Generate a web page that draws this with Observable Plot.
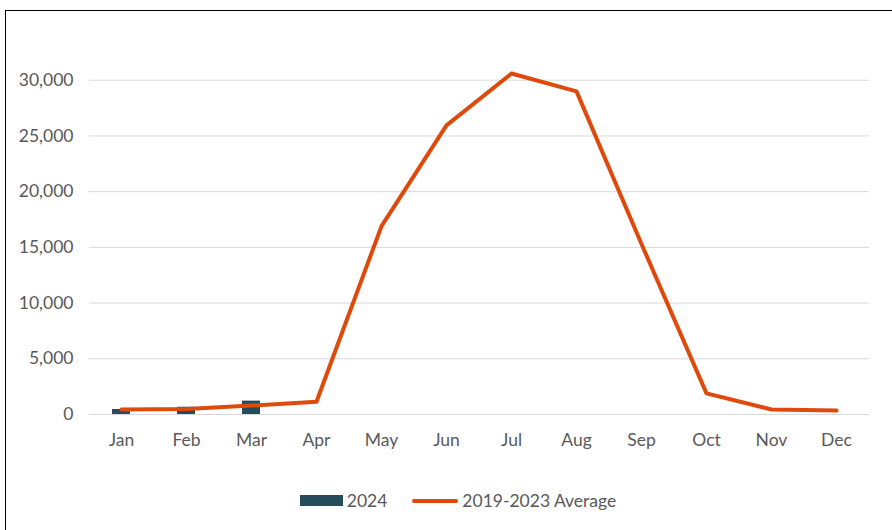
<!DOCTYPE html>
<html>
<head>
<meta charset="utf-8">
<script src="https://cdn.jsdelivr.net/npm/d3@7"></script>
<script src="https://cdn.jsdelivr.net/npm/@observablehq/plot@0.6"></script>
<style>
  html, body { margin: 0; padding: 0; background: #fff; }
  body { width: 892px; height: 530px; overflow: hidden; position: relative; font-family: Lato, "Open Sans", sans-serif; }
  #frame { position: absolute; left: 5px; top: 10px; width: 900px; height: 540px; border: 1px solid #000; box-sizing: border-box; }
  #chart { position: absolute; left: 0; top: 0; }
  #legend { position: absolute; top: 490px; left: 12px; width: 892px; display: flex; justify-content: center; gap: 25px; font-size: 17.5px; color: #595959; }
  .item { display: flex; align-items: center; gap: 4px; }
  .sw-bar { width: 43px; height: 11px; background: #264b5a; }
  .sw-line { width: 46px; height: 4px; border-radius: 2px; background: #de4a0b; }
</style>
</head>
<body>
<div id="frame"></div>
<div id="chart"></div>
<div id="legend">
  <div class="item"><div class="sw-bar"></div><span>2024</span></div>
  <div class="item"><div class="sw-line"></div><span>2019-2023 Average</span></div>
</div>
<script>
const months = ["Jan","Feb","Mar","Apr","May","Jun","Jul","Aug","Sep","Oct","Nov","Dec"];
const values2024 = [450, 650, 1200, null, null, null, null, null, null, null, null, null];
const avg2019_2023 = [450, 500, 800, 1150, 16900, 25950, 30600, 29000, 15300, 1900, 450, 350];
const yTicks = [0, 5000, 10000, 15000, 20000, 25000, 30000];

const bars = months.map((m, i) => ({month: m, value: values2024[i]})).filter(d => d.value != null);
const line = months.map((m, i) => ({month: m, value: avg2019_2023[i]}));

const chart = Plot.plot({
  width: 892,
  height: 470,
  marginLeft: 89,
  marginRight: 23,
  marginTop: 24,
  marginBottom: 56,
  style: {fontFamily: "Lato, 'Open Sans', sans-serif", fontSize: "17.5px", color: "#595959", background: "transparent"},
  x: {domain: months, paddingInner: 0.72, paddingOuter: 0.36, label: null, tickSize: 0, tickPadding: 19},
  y: {domain: [0, 35000], ticks: yTicks, tickFormat: d3.format(","), label: null, tickSize: 0, tickPadding: 16},
  marks: [
    Plot.ruleY(yTicks, {stroke: "#d9d9d9", strokeWidth: 1}),
    Plot.barY(bars, {x: "month", y: "value", fill: "#264b5a"}),
    Plot.line(line, {x: "month", y: "value", stroke: "#de4a0b", strokeWidth: 4, strokeLinecap: "round", strokeLinejoin: "round"})
  ]
});
document.getElementById("chart").appendChild(chart);
</script>
</body>
</html>
